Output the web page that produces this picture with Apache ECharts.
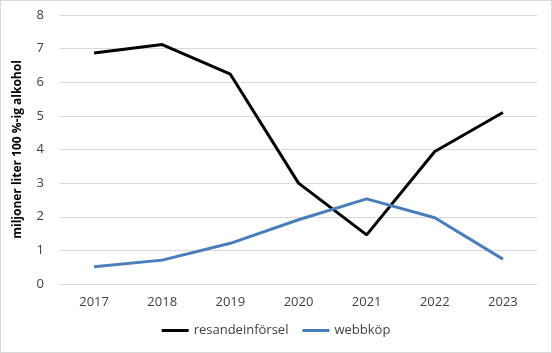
<!DOCTYPE html>
<html>
<head>
<meta charset="utf-8">
<script src="https://cdn.jsdelivr.net/npm/echarts@6/dist/echarts.min.js"></script>
<style>
  html, body { margin: 0; padding: 0; background: #fff; }
  #chart { width: 550px; height: 351px; border: 1px solid #d9d9d9; }
</style>
</head>
<body>
<div id="chart"></div>
<script>
  const years = ['2017', '2018', '2019', '2020', '2021', '2022', '2023']
  const resandeinforsel = [6.87, 7.12, 6.24, 3.0, 1.46, 3.94, 5.1]
  const webbkop = [0.51, 0.71, 1.21, 1.91, 2.53, 1.97, 0.74]
  const yTicks = [0, 1, 2, 3, 4, 5, 6, 7, 8]

  const chart = echarts.init(document.getElementById('chart'))
  const font = '"Open Sans", "Liberation Sans", sans-serif'
  chart.setOption({
    animation: false,
    textStyle: { fontFamily: font },
    grid: { left: 59, right: 14, top: 14, bottom: 68, containLabel: false },
    legend: {
      bottom: 10,
      left: 'center',
      itemWidth: 27,
      itemHeight: 3,
      itemGap: 14,
      icon: 'rect',
      textStyle: { color: '#404040', fontSize: 13, fontFamily: font },
      data: ['resandeinförsel', 'webbköp']
    },
    xAxis: {
      type: 'category',
      data: years,
      boundaryGap: true,
      axisLine: { lineStyle: { color: '#d9d9d9', width: 1 } },
      axisTick: { show: false },
      axisLabel: { color: '#404040', fontSize: 13, margin: 12 }
    },
    yAxis: {
      type: 'value',
      min: yTicks[0],
      max: yTicks[yTicks.length - 1],
      interval: 1,
      name: 'miljoner liter 100 %-ig alkohol',
      nameLocation: 'middle',
      nameRotate: 90,
      nameGap: 36,
      nameTextStyle: { color: '#000', fontWeight: 'bold', fontSize: 12, fontFamily: font },
      axisLine: { show: false },
      axisTick: { show: false },
      axisLabel: { color: '#404040', fontSize: 13, margin: 16 },
      splitLine: { lineStyle: { color: '#d9d9d9', width: 1 } }
    },
    series: [
      {
        name: 'resandeinförsel',
        type: 'line',
        data: resandeinforsel,
        symbol: 'none',
        itemStyle: { color: '#000000' },
        lineStyle: { color: '#000000', width: 3 }
      },
      {
        name: 'webbköp',
        type: 'line',
        data: webbkop,
        symbol: 'none',
        itemStyle: { color: '#4a7ebb' },
        lineStyle: { color: '#4a7ebb', width: 3 }
      }
    ]
  })
</script>
</body>
</html>
